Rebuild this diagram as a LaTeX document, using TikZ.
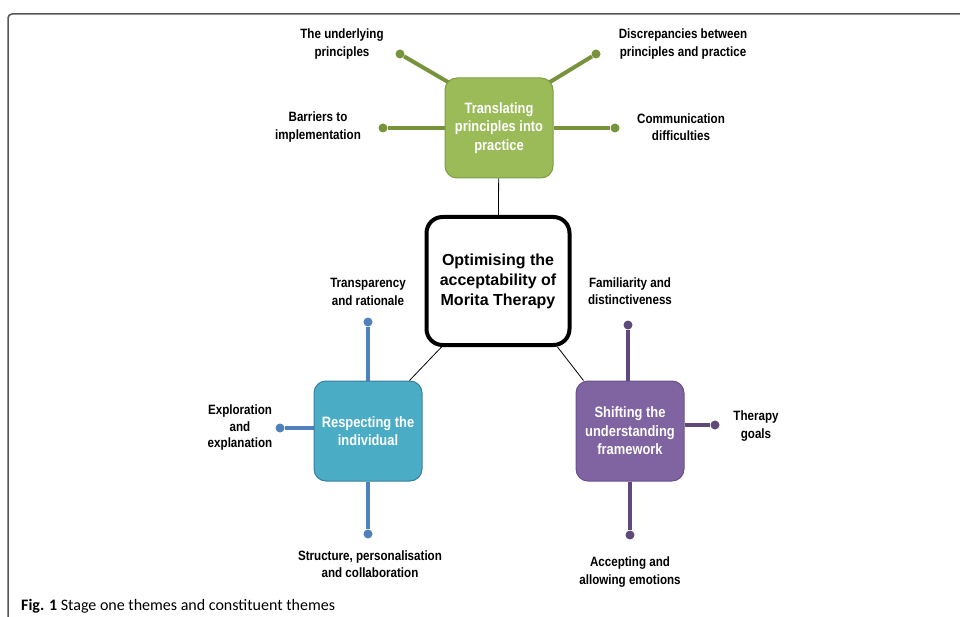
\documentclass[tikz,border=0pt]{standalone}
\usepackage{fontspec}
\setmainfont{Liberation Sans}
\newfontfamily\capfont{Carlito}
\newfontfamily\narrowfont[FakeStretch=0.86]{Liberation Sans}
\usetikzlibrary{backgrounds,calc}
\definecolor{gfill}{HTML}{9BBB59}
\definecolor{gedge}{HTML}{7F9C45}
\definecolor{gline}{HTML}{77933C}
\definecolor{bfill}{HTML}{4BACC6}
\definecolor{bedge}{HTML}{3A7FA0}
\definecolor{bline}{HTML}{4F81BD}
\definecolor{pfill}{HTML}{8064A2}
\definecolor{pedge}{HTML}{6A5088}
\definecolor{pline}{HTML}{5F497A}
\definecolor{framec}{HTML}{555555}
\tikzset{
  theme/.style={rounded corners=12pt, line width=1pt, minimum width=108pt, minimum height=100pt,
    align=center, text=white, font=\narrowfont\bfseries\fontsize{15}{18.5}\selectfont, inner sep=2pt},
  core/.style={draw=black, line width=4pt, rounded corners=16pt, fill=white, minimum width=143pt,
    minimum height=128pt, align=center, font=\bfseries\fontsize{16}{20}\selectfont},
  lbl/.style={align=center, font=\narrowfont\bfseries\fontsize{13.5}{17.5}\selectfont, inner sep=1pt},
  dotg/.style={circle, fill=gline, inner sep=0pt, minimum size=9pt},
  dotb/.style={circle, fill=bline, inner sep=0pt, minimum size=9pt},
  dotp/.style={circle, fill=pline, inner sep=0pt, minimum size=9pt},
  spokeg/.style={draw=gline, line width=4pt},
  spokeb/.style={draw=bline, line width=4pt},
  spokep/.style={draw=pline, line width=4pt},
  link/.style={draw=black, line width=0.8pt}
}
\begin{document}
\begin{tikzpicture}[x=1pt,y=-1pt]
\useasboundingbox (0,0) rectangle (960,617);
\draw[framec, line width=1.5pt, rounded corners=4pt] (8,617) -- (8,14) -- (962,14);

% central theme
\node[core] (core) at (498,281) {Optimising the\\acceptability of\\Morita Therapy};

% themes
\node[theme, draw=gedge, fill=gfill] (green) at (499,128) {Translating\\principles into\\practice};
\node[theme, draw=bedge, fill=bfill] (blue) at (368,431) {Respecting the\\individual};
\node[theme, draw=pedge, fill=pfill] (purple) at (630,431) {Shifting the\\understanding\\framework};

% links to core
\draw[link] (core) -- (green);
\draw[link] ($(core.south west)+(17,0)$) coordinate (cl) -- ($(blue.north east)+(-13,0)$);
\draw[link] ($(core.south east)+(-14,0)$) coordinate (cr) -- ($(purple.north west)+(8,0)$);

% dots
\node[dotg] (g1) at (400,54) {};
\node[dotg] (g2) at (596,54) {};
\node[dotg] (g3) at (383,128) {};
\node[dotg] (g4) at (615,128) {};
\node[dotb] (b1) at (368,322) {};
\node[dotb] (b2) at (280,428) {};
\node[dotb] (b3) at (368,534) {};
\node[dotp] (p1) at (628,325) {};
\node[dotp] (p2) at (715,425) {};
\node[dotp] (p3) at (630,535) {};

\begin{scope}[on background layer]
\path[spokeg] ($(green.north west)+(6,6)$) -- (g1);
\path[spokeg] ($(green.north east)+(-6,6)$) -- (g2);
\path[spokeg] (green.west |- g3) -- (g3);
\path[spokeg] (green.east |- g4) -- (g4);
\path[spokeb] (blue.north -| b1) -- (b1);
\path[spokeb] (blue.west |- b2) -- (b2);
\path[spokeb] (blue.south -| b3) -- (b3);
\path[spokep] (purple.north -| p1) -- (p1);
\path[spokep] (purple.east |- p2) -- (p2);
\path[spokep] (purple.south -| p3) -- (p3);
\end{scope}

% labels
\node[lbl] (lg1) at (342,44) {The underlying\\principles};
\node[lbl] (lg2) at (683,44) {Discrepancies between\\principles and practice};
\node[lbl] (lg3) at (318,127) {Barriers to\\implementation};
\node[lbl] (lg4) at (681,127) {Communication\\difficulties};
\node[lbl] (lb1) at (368,292) {Transparency\\and rationale};
\node[lbl, font=\narrowfont\bfseries\fontsize{13.5}{16.5}\selectfont] (lb2) at (240,428) {Exploration\\and\\explanation};
\node[lbl] (lb3) at (370,564) {Structure, personalisation\\and collaboration};
\node[lbl] (lp1) at (630,291) {Familiarity and\\distinctiveness};
\node[lbl] (lp2) at (756,426) {Therapy\\goals};
\node[lbl] (lp3) at (630,572) {Accepting and\\allowing emotions};

% caption
\node[anchor=west, inner sep=0pt, font=\capfont\fontsize{16}{18}\selectfont] (cap) at (21,606) {\textbf{Fig. 1} Stage one themes and constituent themes};
\end{tikzpicture}
\end{document}
